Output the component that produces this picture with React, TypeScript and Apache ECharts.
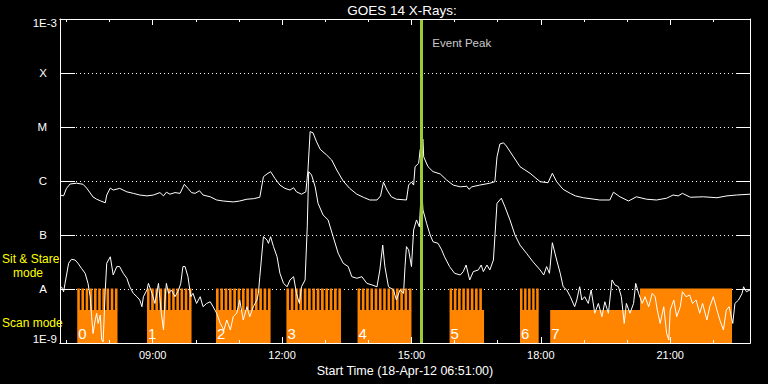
import React, { useEffect, useRef } from 'react';
import * as echarts from 'echarts';

const FONT = '"Liberation Sans", Arial, sans-serif';
const ORANGE = '#ff8400';
const PEAK_GREEN = '#9acd32';

// time axis in minutes since midnight (18-Apr-12)
const START_TIME = '06:51';
const END_TIME = '22:51';
const EVENT_PEAK_TIME = '15:13';
const EVENT_LABEL_FLUX = 3.6e-4;

const majorTickLabels = ['09:00', '12:00', '15:00', '18:00', '21:00'];
const minorTickLabels = ['07:00', '08:00', '10:00', '11:00', '13:00', '14:00', '16:00', '17:00', '19:00', '20:00', '22:00'];

// y levels from 1E-9 (index 0) to 1E-3 (index 6)
const yLevelNames = ['1E-9', 'A', 'B', 'C', 'M', 'X', '1E-3'];

// GOES 14 long channel (1-8 A), minutes since midnight / flux W m^-2
const longTimes = [
  411, 416, 420, 425, 434, 443, 448, 453, 457, 462,
  467, 474, 476, 481, 485, 494, 504, 513, 522, 532,
  541, 550, 555, 559, 564, 571, 578, 584, 589, 594,
  599, 605, 610, 620, 629, 638, 652, 661, 671, 680,
  689, 694, 699, 704, 710, 717, 724, 731, 736, 740,
  747, 753, 756, 759, 763, 768, 773, 782, 789, 796,
  805, 814, 824, 833, 842, 852, 857, 861, 866, 872,
  879, 893, 896, 900, 903, 905, 910, 912, 916, 917,
  923, 930, 940, 949, 958, 968, 977, 980, 984, 995,
  1009, 1016, 1019, 1023, 1028, 1032, 1042, 1051, 1065, 1079,
  1090, 1096, 1102, 1111, 1121, 1128, 1139, 1162, 1176, 1181,
  1190, 1202, 1213, 1227, 1241, 1255, 1264, 1271, 1277, 1288,
  1306, 1325, 1339, 1352, 1371,
];
const longFlux = [
  5.5e-7, 5.3e-7, 7.3e-7, 8.8e-7, 9.1e-7, 8.7e-7, 7.4e-7, 6.0e-7, 5.05e-7, 4.6e-7,
  4.3e-7, 3.95e-7, 5.5e-7, 7.4e-7, 6.8e-7, 7.3e-7, 6.3e-7, 5.9e-7, 5.5e-7, 5.3e-7,
  5.5e-7, 6.1e-7, 5.3e-7, 6.2e-7, 5.7e-7, 6.1e-7, 5.9e-7, 8.7e-7, 7.3e-7, 6.1e-7,
  5.9e-7, 6.6e-7, 5.5e-7, 5.1e-7, 4.45e-7, 4.26e-7, 4.1e-7, 4.26e-7, 4.6e-7, 4.7e-7,
  5.0e-7, 1.2e-6, 1.35e-6, 1.49e-6, 1.12e-6, 8.4e-7, 7.3e-7, 6.8e-7, 7.5e-7, 6.3e-7,
  5.7e-7, 6.3e-7, 1.6e-6, 8.2e-6, 7.8e-6, 5.3e-6, 3.86e-6, 3.03e-6, 2.45e-6, 1.6e-6,
  1.0e-6, 7.3e-7, 5.7e-7, 5.0e-7, 4.45e-7, 4.45e-7, 5.3e-7, 9.5e-7, 6.8e-7, 5.1e-7,
  4.6e-7, 4.45e-7, 8.4e-7, 9.6e-7, 8.4e-7, 1.84e-6, 2.13e-6, 3.75e-6, 5.9e-6, 2.8e-6,
  1.84e-6, 1.49e-6, 1.35e-6, 1.04e-6, 8.4e-7, 7.8e-7, 8.0e-7, 7.0e-7, 7.8e-7, 8.4e-7,
  9.1e-7, 9.7e-7, 2.8e-6, 4.84e-6, 5.1e-6, 4.45e-6, 2.8e-6, 1.84e-6, 1.39e-6, 9.7e-7,
  9.3e-7, 1.39e-6, 9.7e-7, 7.0e-7, 5.9e-7, 5.3e-7, 4.9e-7, 4.45e-7, 4.45e-7, 6.2e-7,
  5.1e-7, 4.26e-7, 5.1e-7, 4.6e-7, 4.45e-7, 4.8e-7, 5.5e-7, 5.3e-7, 5.9e-7, 5.0e-7,
  5.1e-7, 4.9e-7, 5.3e-7, 5.5e-7, 5.7e-7,
];

// GOES 14 short channel (0.5-4 A)
const shortTimes = [
  413, 416, 418, 423, 427, 432, 436, 441, 446, 450,
  453, 455, 457, 460, 462, 464, 467, 469, 471, 474,
  476, 481, 485, 490, 494, 499, 504, 508, 513, 518,
  522, 525, 527, 532, 534, 539, 543, 548, 552, 555,
  557, 559, 562, 566, 571, 576, 579, 582, 585, 589,
  593, 596, 601, 606, 610, 615, 620, 624, 629, 634,
  639, 643, 648, 652, 657, 661, 666, 671, 675, 680,
  685, 687, 689, 694, 699, 701, 704, 708, 713, 717,
  722, 727, 731, 736, 740, 744, 747, 752, 755, 757,
  761, 766, 770, 777, 784, 791, 798, 805, 812, 817,
  824, 831, 838, 845, 852, 856, 860, 863, 868, 875,
  879, 884, 889, 891, 893, 896, 900, 903, 907, 911,
  914, 916, 921, 926, 930, 937, 942, 946, 953, 960,
  968, 972, 976, 981, 986, 993, 997, 1000, 1005, 1009,
  1014, 1019, 1025, 1030, 1037, 1044, 1051, 1060, 1069, 1079,
  1084, 1088, 1092, 1096, 1102, 1107, 1111, 1116, 1121, 1127,
  1130, 1134, 1137, 1141, 1146, 1150, 1155, 1160, 1165, 1169,
  1174, 1179, 1183, 1188, 1192, 1196, 1199, 1204, 1209, 1212,
  1216, 1221, 1225, 1230, 1235, 1239, 1242, 1246, 1251, 1255,
  1258, 1260, 1265, 1269, 1274, 1277, 1282, 1287, 1291, 1296,
  1301, 1305, 1311, 1315, 1320, 1325, 1329, 1334, 1338, 1342,
  1347, 1350, 1355, 1360, 1362, 1366, 1371,
];
const shortFlux = [
  1.1e-8, 8.9e-9, 1.27e-8, 3.0e-8, 3.55e-8, 3.44e-8, 3.0e-8, 2.4e-8, 1.95e-8, 1.27e-8,
  7.2e-9, 3.07e-9, 1.5e-9, 2.67e-9, 3.55e-9, 2.3e-9, 3.3e-9, 1.14e-9, 1.05e-9, 9.6e-9,
  3.0e-8, 3.95e-8, 1.82e-8, 2.6e-8, 2.6e-8, 1.95e-8, 1.58e-8, 1.1e-8, 8.3e-9, 7.2e-9,
  6.25e-9, 4.7e-9, 7.2e-9, 9.6e-9, 1.27e-8, 8.3e-9, 5.4e-9, 1.27e-8, 3.55e-9, 1.74e-9,
  6.25e-9, 1.27e-8, 8.3e-9, 9.6e-9, 7.2e-9, 9.6e-9, 1.27e-8, 2.6e-8, 2.6e-8, 1.69e-8,
  7.2e-9, 8.3e-9, 5.4e-9, 7.2e-9, 4.7e-9, 5.4e-9, 5.8e-9, 4.7e-9, 3.55e-9, 2.3e-9,
  1.74e-9, 2.67e-9, 1.74e-9, 3.07e-9, 3.6e-9, 6.25e-9, 2.67e-9, 4.7e-9, 3.07e-9, 4.7e-9,
  6.25e-9, 8.3e-9, 1.69e-8, 9.3e-8, 8.1e-8, 7.0e-8, 9.3e-8, 6.1e-8, 3.95e-8, 1.95e-8,
  1.27e-8, 1.1e-8, 1.47e-8, 1.69e-8, 8.3e-9, 5.4e-9, 1.1e-8, 1.47e-8, 1.42e-7, 1.49e-6,
  1.29e-6, 7.8e-7, 3.86e-7, 2.35e-7, 1.9e-7, 9.3e-8, 4.6e-8, 3.0e-8, 2.6e-8, 1.69e-8,
  1.58e-8, 1.69e-8, 1.27e-8, 1.19e-8, 1.1e-8, 2.25e-8, 6.5e-8, 2.6e-8, 1.1e-8, 9.6e-9,
  6.25e-9, 9.6e-9, 8.3e-9, 2.6e-8, 6.1e-8, 5.3e-8, 2.6e-8, 1.24e-7, 1.9e-7, 1.42e-7,
  8.4e-7, 2.9e-7, 1.65e-7, 1.0e-7, 7.5e-8, 7.0e-8, 5.3e-8, 3.95e-8, 2.6e-8, 1.95e-8,
  1.82e-8, 2.1e-8, 2.78e-8, 1.47e-8, 2.1e-8, 2.25e-8, 2.78e-8, 2.1e-8, 2.78e-8, 2.25e-8,
  3.44e-8, 3.86e-7, 4.8e-7, 3.34e-7, 1.9e-7, 1.0e-7, 6.5e-8, 4.6e-8, 3.2e-8, 2.25e-8,
  1.82e-8, 2.6e-8, 1.95e-8, 7.2e-8, 3.44e-8, 1.95e-8, 1.1e-8, 9.6e-9, 7.2e-9, 4.7e-9,
  6.25e-9, 1.1e-8, 6.25e-9, 7.2e-9, 5.4e-9, 9.6e-9, 3.55e-9, 5.4e-9, 3.07e-9, 5.8e-9,
  3.55e-9, 1.47e-8, 1.19e-8, 1.1e-8, 7.2e-9, 2.3e-9, 5.4e-9, 3.55e-9, 5.4e-9, 1.27e-8,
  8.3e-9, 5.4e-9, 7.2e-9, 4.7e-9, 8.3e-9, 7.2e-9, 4.08e-9, 2.3e-9, 4.7e-9, 1.5e-9,
  1.14e-9, 4.08e-9, 6.25e-9, 3.07e-9, 4.7e-9, 8.9e-9, 7.2e-9, 7.74e-9, 5.4e-9, 6.25e-9,
  3.55e-9, 5.4e-9, 2.67e-9, 4.7e-9, 7.2e-9, 4.08e-9, 2.67e-9, 1.74e-9, 4.08e-9, 4.7e-9,
  2.3e-9, 5.4e-9, 6.25e-9, 8.3e-9, 1.1e-8, 8.9e-9, 9.6e-9,
];

// observing blocks
const blockLabels = ['0', '1', '2', '3', '4', '5', '6', '7'];
const scanStart = ['07:15', '08:52', '10:28', '12:06', '13:45', '15:53', '17:31', '18:13'];
const scanEnd = ['08:11', '09:54', '11:44', '13:22', '15:00', '16:41', '17:57', '22:26'];
const sitStart = ['07:15', '08:52', '10:28', '12:06', '13:45', '15:53', '17:31', '20:18'];
const sitEnd = ['08:11', '09:54', '11:44', '13:22', '15:00', '16:38', '17:57', '22:26'];
const sitSteps = [10, 11, 13, 13, 13, 8, 5, 1];
const SCAN_LEVEL = 4.1e-9;
const SIT_LEVEL = 1e-8;
const Y_MIN = 1e-9;
const Y_MAX = 1e-3;

const toMin = (s: string) => {
  const [h, m] = s.split(':').map(Number);
  return h * 60 + m;
};
const fmtHM = (v: number) => {
  const h = Math.floor(v / 60);
  const m = Math.round(v - h * 60);
  return `${String(h).padStart(2, '0')}:${String(m).padStart(2, '0')}`;
};

const X_MIN = toMin(START_TIME);
const X_MAX = toMin(END_TIME);
const majorVals = majorTickLabels.map(toMin);
const minorVals = minorTickLabels.map(toMin);

const longData = longTimes.map((t, i) => [t, longFlux[i]]);
const shortData = shortTimes.map((t, i) => [t, shortFlux[i]]);
const scanData = scanStart.map((s, i) => [toMin(s), toMin(scanEnd[i]), i]);
const sitData = sitStart.map((s, i) => [toMin(s), toMin(sitEnd[i]), sitSteps[i]]);

const white = '#ffffff';

const baseX = (position: 'top' | 'bottom', len: number, vals: number[]) => ({
  type: 'value',
  min: X_MIN,
  max: X_MAX,
  position,
  z: 10,
  splitLine: { show: false },
  axisLine: { show: true, onZero: false, lineStyle: { color: white, width: 1 } },
  axisTick: { show: true, inside: true, length: len, customValues: vals, lineStyle: { color: white, width: 1 } },
  axisLabel: { show: false },
});

const option: any = {
  animation: false,
  backgroundColor: '#000000',
  grid: { left: 60, right: 18, top: 19, bottom: 41, containLabel: false },
  xAxis: [
    {
      ...baseX('bottom', 6, majorVals),
      axisLabel: {
        show: true,
        customValues: majorVals,
        formatter: (v: number) => fmtHM(v),
        color: white,
        fontFamily: FONT,
        fontSize: 11,
        margin: 6,
      },
      name: `Start Time (18-Apr-12 ${START_TIME}:00)`,
      nameLocation: 'middle',
      nameGap: 20,
      nameTextStyle: { color: white, fontFamily: FONT, fontSize: 12.5 },
    },
    baseX('bottom', 3, minorVals),
    baseX('top', 6, majorVals),
    baseX('top', 3, minorVals),
  ],
  yAxis: [
    {
      type: 'log',
      logBase: 10,
      min: Y_MIN,
      max: Y_MAX,
      splitNumber: 6,
      position: 'left',
      z: 0,
      axisLine: { show: true, onZero: false, lineStyle: { color: white, width: 1 } },
      axisTick: { show: true, inside: true, length: 15, lineStyle: { color: white, width: 1 } },
      splitLine: { show: true, lineStyle: { color: white, width: 1, type: [1, 3] } },
      axisLabel: {
        show: true,
        margin: 3,
        color: white,
        fontFamily: FONT,
        fontSize: 11.5,
        formatter: (v: number) => {
          const e = Math.round(Math.log10(v));
          const name = yLevelNames[e + 9];
          if (e === -3) return `{top|${name}}`;
          if (e === -9) return `{bot|${name}}`;
          return `{cls|${name}}`;
        },
        rich: {
          top: { color: white, fontFamily: FONT, fontSize: 11.5, padding: [8, 0, 0, 0] },
          bot: { color: white, fontFamily: FONT, fontSize: 11.5, padding: [0, 0, 8, 0] },
          cls: { color: white, fontFamily: FONT, fontSize: 11.5, padding: [0, 10, 0, 0] },
        },
      },
    },
    {
      type: 'log',
      logBase: 10,
      min: Y_MIN,
      max: Y_MAX,
      splitNumber: 6,
      position: 'right',
      z: 10,
      axisLine: { show: true, onZero: false, lineStyle: { color: white, width: 1 } },
      axisTick: { show: true, inside: true, length: 14, lineStyle: { color: white, width: 1 } },
      splitLine: { show: false },
      axisLabel: { show: false },
    },
  ],
  graphic: [
    {
      type: 'text',
      x: 402,
      y: 3,
      style: { text: 'GOES 14 X-Rays:', fill: white, fontFamily: FONT, fontSize: 13.5, align: 'center', verticalAlign: 'top' },
    },
    {
      type: 'text',
      x: 2,
      y: 252,
      style: { text: 'Sit & Stare', fill: '#ffff00', fontFamily: FONT, fontSize: 12, lineHeight: 13, align: 'left', verticalAlign: 'top' },
    },
    {
      type: 'text',
      x: 13,
      y: 266,
      style: { text: 'mode', fill: '#ffff00', fontFamily: FONT, fontSize: 12, lineHeight: 13, align: 'left', verticalAlign: 'top' },
    },
    {
      type: 'text',
      x: 2,
      y: 317,
      style: { text: 'Scan mode', fill: '#ffff00', fontFamily: FONT, fontSize: 12, align: 'left', verticalAlign: 'top' },
    },
  ],
  series: [
    {
      type: 'custom',
      name: 'scan',
      xAxisIndex: 0,
      yAxisIndex: 0,
      z: 2,
      silent: true,
      data: scanData,
      renderItem: (params: any, api: any) => {
        const s = api.value(0);
        const e = api.value(1);
        const idx = api.value(2);
        const a = api.coord([s, Y_MIN]);
        const b = api.coord([e, SCAN_LEVEL]);
        return {
          type: 'group',
          children: [
            {
              type: 'rect',
              shape: { x: a[0], y: b[1], width: b[0] - a[0], height: a[1] - b[1] },
              style: { fill: ORANGE },
            },
            {
              type: 'text',
              x: a[0] + 1,
              y: a[1] - 2,
              z2: 5,
              style: {
                text: blockLabels[idx],
                fill: white,
                fontFamily: FONT,
                fontSize: 15,
                align: 'left',
                verticalAlign: 'bottom',
              },
            },
          ],
        };
      },
    },
    {
      type: 'custom',
      name: 'sit',
      xAxisIndex: 0,
      yAxisIndex: 0,
      z: 2,
      silent: true,
      data: sitData,
      renderItem: (params: any, api: any) => {
        const s = api.value(0);
        const e = api.value(1);
        const n = api.value(2);
        const a = api.coord([s, SCAN_LEVEL]);
        const b = api.coord([e, SIT_LEVEL]);
        const x0 = a[0];
        const x1 = b[0];
        const yTop = b[1] - 0.5;
        const yBot = a[1] + 0.5;
        const children: any[] = [];
        if (n <= 1) {
          children.push({ type: 'rect', shape: { x: x0, y: yTop, width: x1 - x0, height: yBot - yTop }, style: { fill: ORANGE } });
        } else {
          const period = (x1 - x0) / (n - 0.38);
          const w = period * 0.62;
          for (let i = 0; i < n; i++) {
            children.push({
              type: 'rect',
              shape: { x: x0 + i * period, y: yTop, width: w, height: yBot - yTop },
              style: { fill: ORANGE },
            });
          }
        }
        return { type: 'group', children };
      },
    },
    {
      type: 'line',
      name: 'long',
      xAxisIndex: 0,
      yAxisIndex: 0,
      data: longData,
      showSymbol: false,
      symbol: 'none',
      silent: true,
      z: 4,
      lineStyle: { color: white, width: 1 },
    },
    {
      type: 'line',
      name: 'short',
      xAxisIndex: 0,
      yAxisIndex: 0,
      data: shortData,
      showSymbol: false,
      symbol: 'none',
      silent: true,
      z: 4,
      lineStyle: { color: white, width: 1 },
    },
    {
      type: 'scatter',
      name: 'Event Peak',
      xAxisIndex: 0,
      yAxisIndex: 0,
      z: 8,
      silent: true,
      symbolSize: 1,
      itemStyle: { color: 'rgba(0,0,0,0)' },
      data: [[toMin(EVENT_PEAK_TIME), EVENT_LABEL_FLUX]],
      label: {
        show: true,
        position: 'right',
        distance: 11,
        formatter: 'Event Peak',
        color: white,
        textBorderWidth: 0,
        fontFamily: FONT,
        fontSize: 11.5,
      },
      markLine: {
        silent: true,
        symbol: ['none', 'none'],
        label: { show: false },
        lineStyle: { color: PEAK_GREEN, width: 3, type: 'solid' },
        data: [{ xAxis: toMin(EVENT_PEAK_TIME) }],
      },
    },
  ],
};

export default function App() {
  const ref = useRef<HTMLDivElement>(null);
  useEffect(() => {
    if (!ref.current) return;
    const chart = echarts.init(ref.current, null, { renderer: 'svg' });
    chart.setOption(option);
    return () => chart.dispose();
  }, []);
  return (
    <div
      ref={ref}
      style={{ position: 'fixed', left: 0, top: 0, width: 768, height: 384, background: '#000' }}
    />
  );
}
